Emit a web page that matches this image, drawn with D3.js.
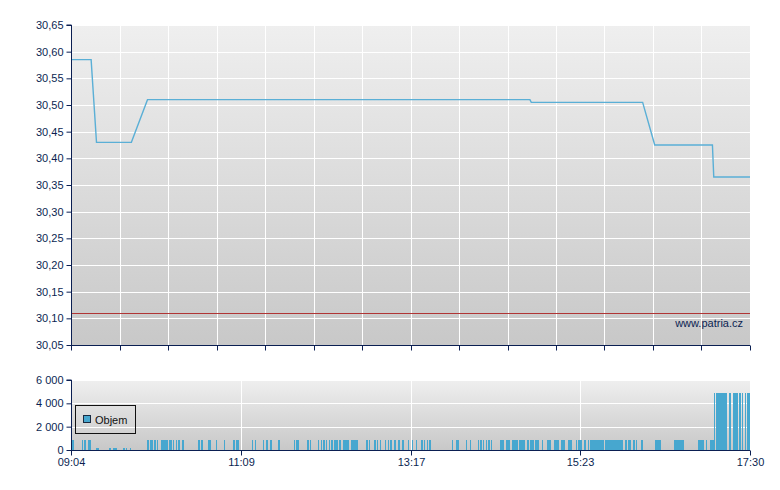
<!DOCTYPE html>
<html>
<head>
<meta charset="utf-8">
<script src="https://cdn.jsdelivr.net/npm/d3@7"></script>
<style>
  html, body { margin: 0; padding: 0; background: #ffffff; }
  svg { display: block; }
  text { font-family: "Liberation Sans", Arial, sans-serif; }
</style>
</head>
<body>
<div id="chart"></div>
<script>
// ---------- DATA ----------
const sessionStart = "09:04";
const sessionEnd = "17:30";
const xTickLabels = ["09:04", "11:09", "13:17", "15:23", "17:30"];
const priceTicks = [30.05, 30.10, 30.15, 30.20, 30.25, 30.30, 30.35, 30.40, 30.45, 30.50, 30.55, 30.60, 30.65];
const volumeTicks = [0, 2000, 4000, 6000];
const prevClose = 30.11;

// price line (time, price)
const priceTimes = ["09:04", "09:19", "09:23", "09:49", "10:01", "14:46", "14:47", "16:10", "16:19", "17:02", "17:03", "17:30"];
const priceValues = [30.585, 30.585, 30.43, 30.43, 30.51, 30.51, 30.505, 30.505, 30.425, 30.425, 30.365, 30.365];

// volume bars: minutes after session start, volume
const volMinutes = [
  0, 1, 8, 10, 13, 14,
  19, 20, 28, 29, 31, 32, 33, 39, 41, 44,
  57, 59, 60, 62, 64, 67, 68, 69, 70, 71, 73, 74, 76, 78, 80, 83, 95, 97, 102, 103, 108, 114, 121, 123, 124,
  135, 137, 143, 145, 146, 148, 149, 154, 155, 166, 168, 169, 176, 178, 184, 186, 188, 190, 192, 194, 196, 197, 198, 200, 203, 204, 205, 206, 209, 210, 211, 212, 213, 220, 222, 226, 228, 230, 234, 236, 238, 241, 244, 247, 251,
  254, 257, 261, 263, 265, 267, 284, 287, 288, 294, 297, 303, 305, 307, 309, 311, 313,
  320, 321, 322, 324, 325, 326, 329, 330, 331, 332, 334, 335, 336, 337, 340, 342, 343, 344, 346, 347, 348, 351, 355, 356, 357, 360, 361, 362, 363, 365, 366, 367, 370, 371, 372, 376, 378,
  379, 380, 382, 383, 385, 387, 388, 389, 390, 391, 392, 393, 394, 395, 396, 398, 399, 400, 401, 402, 403, 404, 405, 406, 407, 408, 409, 410, 413, 415, 416, 419, 421, 425, 435, 436, 437, 438, 439, 449, 450, 451, 452, 453, 454, 455, 456, 467, 468, 469, 470, 471, 473, 476, 477, 478,
  479, 481, 482, 483, 484, 485, 486, 487, 488, 490, 491, 493, 494, 495, 496, 498, 500, 502, 504, 505
];
const volValues = [
  850, 850, 850, 850, 850, 850,
  200, 200, 200, 200, 200, 200, 200, 200, 200, 200,
  850, 850, 850, 850, 850, 850, 850, 850, 850, 850, 850, 850, 850, 850, 850, 850, 850, 850, 850, 850, 850, 850, 850, 850, 850,
  850, 850, 850, 850, 850, 850, 850, 850, 850, 850, 850, 850, 850, 850, 850, 850, 850, 850, 850, 850, 850, 850, 850, 850, 850, 850, 850, 850, 850, 850, 850, 850, 850, 850, 850, 850, 850, 850, 850, 850, 850, 850, 850, 850, 850,
  850, 850, 850, 850, 850, 850, 850, 850, 850, 850, 850, 850, 850, 850, 850, 850, 850,
  850, 850, 850, 850, 850, 850, 850, 850, 850, 850, 850, 850, 850, 850, 850, 850, 850, 850, 850, 850, 850, 850, 850, 850, 850, 850, 850, 850, 850, 850, 850, 850, 850, 850, 850, 850, 850,
  850, 850, 850, 850, 850, 850, 850, 850, 850, 850, 850, 850, 850, 850, 850, 850, 850, 850, 850, 850, 850, 850, 850, 850, 850, 850, 850, 850, 850, 850, 850, 850, 850, 850, 850, 850, 850, 850, 850, 850, 850, 850, 850, 850, 850, 850, 850, 850, 850, 850, 850, 850, 850, 850, 850, 850,
  4850, 4850, 4850, 4850, 4850, 4850, 4850, 4850, 4850, 4850, 4850, 4850, 4850, 4850, 4850, 4850, 4850, 4850, 4850, 4850
];

// ---------- LAYOUT ----------
const W = 780, H = 490;
const L = 71, R = 750;
const pTop = 25, pBot = 345;
const vTop = 380, vBot = 450;
const navy = "#0b1f52";
const fontSize = "11px";

const toMin = s => { const [h, m] = s.split(":").map(Number); return h * 60 + m; };
const t0 = toMin(sessionStart), t1 = toMin(sessionEnd);
const total = t1 - t0;

const svg = d3.select("#chart").append("svg").attr("width", W).attr("height", H);

const defs = svg.append("defs");
const grad = defs.append("linearGradient").attr("id", "bg").attr("x1", 0).attr("y1", 0).attr("x2", 0).attr("y2", 1);
grad.append("stop").attr("offset", "0%").attr("stop-color", "#efefef");
grad.append("stop").attr("offset", "100%").attr("stop-color", "#c8c8c8");

const x = d3.scaleLinear().domain([0, total]).range([L, R]);
const yP = d3.scaleLinear().domain([30.05, 30.65]).range([pBot, pTop]);
const yV = d3.scaleLinear().domain([0, 6000]).range([vBot, vTop]);

const crisp = v => Math.round(v) + 0.5;

// ---------- PRICE PANEL ----------
const gP = svg.append("g");
gP.append("rect").attr("x", L).attr("y", pTop).attr("width", R - L).attr("height", pBot - pTop).attr("fill", "url(#bg)");

// horizontal gridlines
gP.selectAll("line.hg").data(priceTicks).enter().append("line")
  .attr("x1", L).attr("x2", R)
  .attr("y1", d => crisp(yP(d))).attr("y2", d => crisp(yP(d)))
  .attr("stroke", "#ffffff").attr("stroke-width", 1);

// vertical gridlines (14 divisions)
const vDiv = d3.range(1, 14).map(i => i * total / 14);
gP.selectAll("line.vg").data(vDiv).enter().append("line")
  .attr("x1", d => crisp(x(d))).attr("x2", d => crisp(x(d)))
  .attr("y1", pTop).attr("y2", pBot)
  .attr("stroke", "#ffffff").attr("stroke-width", 1);

// previous close line
gP.append("line").attr("x1", L).attr("x2", R)
  .attr("y1", crisp(yP(prevClose))).attr("y2", crisp(yP(prevClose)))
  .attr("stroke", "#b03434").attr("stroke-width", 1);

// watermark
gP.append("text").attr("x", 743).attr("y", 327).attr("text-anchor", "end")
  .attr("fill", navy).style("font-size", fontSize).text("www.patria.cz");

// price line
const pricePts = priceTimes.map((t, i) => [toMin(t) - t0, priceValues[i]]);
gP.append("path").datum(pricePts)
  .attr("d", d3.line().x(d => x(d[0])).y(d => yP(d[1])))
  .attr("fill", "none").attr("stroke", "#5aafd6").attr("stroke-width", 1.4);

// left axis
const axP = d3.axisLeft(yP).tickValues(priceTicks).tickSize(5).tickPadding(3)
  .tickFormat(d => d3.format(".2f")(d).replace(".", ","));
const gAxP = svg.append("g").attr("transform", `translate(${L + 0.5},0)`).call(axP);
gAxP.select(".domain").attr("stroke", navy).attr("d", `M-5,${pTop}H0V${pBot}`);
gAxP.selectAll(".tick line").attr("stroke", navy);
gAxP.selectAll(".tick text").attr("fill", navy).style("font-size", fontSize).style("font-family", "'Liberation Sans', Arial, sans-serif");

// bottom axis (no labels)
const axPB = d3.axisBottom(x).tickValues([0].concat(vDiv, [total])).tickSize(5).tickFormat("");
const gAxPB = svg.append("g").attr("transform", `translate(0,${pBot + 0.5})`).call(axPB);
gAxPB.select(".domain").attr("stroke", navy).attr("d", `M${L},0H${R}`);
gAxPB.selectAll(".tick line").attr("stroke", navy);
gAxPB.selectAll(".tick").attr("transform", d => `translate(${crisp(x(d))},0)`);

// ---------- VOLUME PANEL ----------
const gV = svg.append("g");
gV.append("rect").attr("x", L).attr("y", vTop).attr("width", R - L).attr("height", vBot - vTop).attr("fill", "url(#bg)");

gV.selectAll("line.hg").data(volumeTicks.filter(d => d > 0)).enter().append("line")
  .attr("x1", L).attr("x2", R)
  .attr("y1", d => crisp(yV(d))).attr("y2", d => crisp(yV(d)))
  .attr("stroke", "#ffffff").attr("stroke-width", 1);

const labelPos = xTickLabels.map((s, i) => i * total / (xTickLabels.length - 1));
gV.selectAll("line.vg").data(labelPos.slice(1, -1)).enter().append("line")
  .attr("x1", d => crisp(x(d))).attr("x2", d => crisp(x(d)))
  .attr("y1", vTop).attr("y2", vBot)
  .attr("stroke", "#ffffff").attr("stroke-width", 1);

// bars
const minuteW = x(1) - x(0);
gV.selectAll("rect.bar").data(volMinutes.map((m, i) => [m, volValues[i]])).enter().append("rect")
  .attr("x", d => x(d[0]))
  .attr("width", minuteW)
  .attr("y", d => yV(d[1]))
  .attr("height", d => yV(0) - yV(d[1]))
  .attr("fill", "#47a7cf")
  .attr("shape-rendering", "crispEdges");

// legend
const lg = svg.append("g");
lg.append("rect").attr("x", 75.5).attr("y", 405.5).attr("width", 60).attr("height", 28)
  .attr("fill", "none").attr("stroke", "#111111").attr("stroke-width", 1);
lg.append("rect").attr("x", 83.5).attr("y", 415.5).attr("width", 7).attr("height", 7)
  .attr("fill", "#47a7cf").attr("stroke", "#1a2a40").attr("stroke-width", 1);
lg.append("text").attr("x", 95).attr("y", 424).attr("fill", "#111111").style("font-size", fontSize).text("Objem");

// volume left axis
const axV = d3.axisLeft(yV).tickValues(volumeTicks).tickSize(5).tickPadding(3)
  .tickFormat(d => d3.format(",")(d).replace(/,/g, " "));
const gAxV = svg.append("g").attr("transform", `translate(${L + 0.5},0)`).call(axV);
gAxV.select(".domain").attr("stroke", navy).attr("d", `M-5,${vTop}H0V${vBot}`);
gAxV.selectAll(".tick line").attr("stroke", navy);
gAxV.selectAll(".tick text").attr("fill", navy).style("font-size", fontSize).style("font-family", "'Liberation Sans', Arial, sans-serif");

// volume bottom axis with time labels
const axVB = d3.axisBottom(x).tickValues(labelPos).tickSize(5).tickPadding(3)
  .tickFormat((d, i) => xTickLabels[i]);
const gAxVB = svg.append("g").attr("transform", `translate(0,${vBot + 0.5})`).call(axVB);
gAxVB.select(".domain").attr("stroke", navy).attr("d", `M${L},0H${R}`);
gAxVB.selectAll(".tick line").attr("stroke", navy);
gAxVB.selectAll(".tick").attr("transform", d => `translate(${crisp(x(d))},0)`);
gAxVB.selectAll(".tick text").attr("fill", navy).style("font-size", fontSize).style("font-family", "'Liberation Sans', Arial, sans-serif");
</script>
</body>
</html>
